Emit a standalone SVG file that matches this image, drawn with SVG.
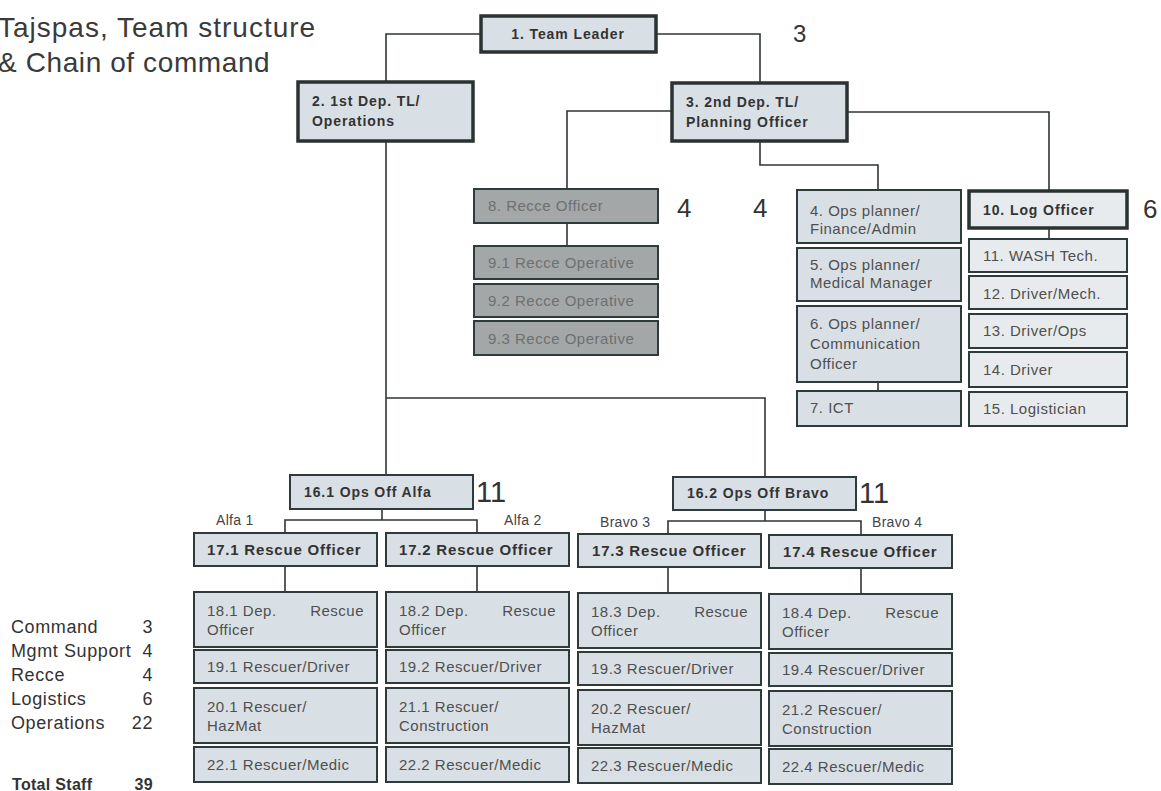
<svg xmlns="http://www.w3.org/2000/svg" width="1161" height="791" viewBox="0 0 1161 791">
<style>
text{font-family:"Liberation Sans",Arial,sans-serif}
.b{fill:#d9e0e5;stroke:#2f3b3b;stroke-width:2}
.bt{fill:#d9e0e5;stroke:#2a3232;stroke-width:3.5}
.bl{fill:#e8ebed;stroke:#2f3b3b;stroke-width:2}
.br{fill:#a4a7a8;stroke:#2f3b3b;stroke-width:2}
.tb{font-size:14px;font-weight:bold;fill:#333;letter-spacing:0.9px}
.tb2{font-size:15px;font-weight:bold;fill:#333;letter-spacing:0.8px}
.tr{font-size:15px;fill:#4f4f4f;letter-spacing:0.5px}
.trc{font-size:15px;fill:#6e7070;letter-spacing:0.5px}
.num{font-size:26px;fill:#333}
.lbl{font-size:14px;fill:#444;letter-spacing:0.3px}
.leg{font-size:18px;fill:#333;letter-spacing:0.6px}
.tot{font-size:16px;font-weight:bold;fill:#333;letter-spacing:0.3px}
.conn path{fill:none;stroke:#2f3535;stroke-width:1.6}
</style>
<g id="title">
<text x="-2" y="37" style="font-size:28px;fill:#3a3a3a;letter-spacing:1px">Tajspas, Team structure</text>
<text x="-2" y="72" style="font-size:28px;fill:#3a3a3a;letter-spacing:0.6px">&amp; Chain of command</text>
</g>
<g class="conn" id="connectors">
<path d="M481,34 H386 V82"/>
<path d="M656,34 H760 V83"/>
<path d="M672,111 H567 V189"/>
<path d="M847,112 H1049 V191"/>
<path d="M760,142 V165 H878 V190"/>
<path d="M567,223 V246"/>
<path d="M878,382 V391"/>
<path d="M1049,228 V239"/>
<path d="M386,141 V475"/>
<path d="M386,398 H765 V477"/>
<path d="M382,509 V520"/>
<path d="M285,533 V520 H477 V533"/>
<path d="M765,510 V521"/>
<path d="M668,534 V521 H861 V535"/>
<path d="M285,566 V592"/>
<path d="M477,566 V592"/>
<path d="M668,567 V593"/>
<path d="M861,568 V594"/>
</g>
<g id="n1"><rect class="bt" x="481" y="16" width="175" height="36"/><text class="tb" x="568" y="39" text-anchor="middle">1. Team Leader</text></g>
<g id="n2"><rect class="bt" x="298" y="82" width="175" height="59"/><text class="tb" x="312" y="106">2. 1st Dep. TL/</text><text class="tb" x="312" y="126">Operations</text></g>
<g id="n3"><rect class="bt" x="672" y="83" width="175" height="58"/><text class="tb" x="686" y="107">3. 2nd Dep. TL/</text><text class="tb" x="686" y="127">Planning Officer</text></g>
<text class="num" x="793" y="42" style="font-size:24px">3</text>
<g id="n8"><rect class="br" x="474" y="189" width="184" height="34"/><text class="trc" x="488" y="211">8. Recce Officer</text></g>
<g id="n9_1"><rect class="br" x="474" y="246" width="184" height="33"/><text class="trc" x="488" y="268">9.1 Recce Operative</text></g>
<g id="n9_2"><rect class="br" x="474" y="284" width="184" height="33"/><text class="trc" x="488" y="306">9.2 Recce Operative</text></g>
<g id="n9_3"><rect class="br" x="474" y="321" width="184" height="34"/><text class="trc" x="488" y="344">9.3 Recce Operative</text></g>
<text class="num" x="677" y="217">4</text>
<text class="num" x="753" y="217">4</text>
<g id="n4"><rect class="b" x="797" y="190" width="164" height="53"/><text class="tr" x="810" y="216">4. Ops planner/</text><text class="tr" x="810" y="234">Finance/Admin</text></g>
<g id="n5"><rect class="b" x="797" y="248" width="164" height="53"/><text class="tr" x="810" y="270">5. Ops planner/</text><text class="tr" x="810" y="288">Medical Manager</text></g>
<g id="n6"><rect class="b" x="797" y="306" width="164" height="76"/><text class="tr" x="810" y="329">6. Ops planner/</text><text class="tr" x="810" y="349">Communication</text><text class="tr" x="810" y="369">Officer</text></g>
<g id="n7"><rect class="b" x="797" y="391" width="164" height="35"/><text class="tr" x="810" y="413">7. ICT</text></g>
<g id="n10"><rect class="bt" x="969" y="191" width="158" height="37" style="fill:#e8ebed"/><text class="tb" x="983" y="215">10. Log Officer</text></g>
<text class="num" x="1143" y="218">6</text>
<g id="n11"><rect class="bl" x="969" y="239" width="158" height="33"/><text class="tr" x="983" y="261">11. WASH Tech.</text></g>
<g id="n12"><rect class="bl" x="969" y="276" width="158" height="33"/><text class="tr" x="983" y="299">12. Driver/Mech.</text></g>
<g id="n13"><rect class="bl" x="969" y="314" width="158" height="34"/><text class="tr" x="983" y="336">13. Driver/Ops</text></g>
<g id="n14"><rect class="bl" x="969" y="352" width="158" height="35"/><text class="tr" x="983" y="375">14. Driver</text></g>
<g id="n15"><rect class="bl" x="969" y="392" width="158" height="34"/><text class="tr" x="983" y="414">15. Logistician</text></g>
<g id="n16_1"><rect class="b" x="290" y="475" width="183" height="34"/><text class="tb" x="304" y="497">16.1 Ops Off Alfa</text></g>
<text class="num" x="476" y="502" style="font-size:29px">11</text>
<g id="n16_2"><rect class="b" x="673" y="477" width="183" height="33"/><text class="tb" x="687" y="498">16.2 Ops Off Bravo</text></g>
<text class="num" x="859" y="503" style="font-size:29px">11</text>
<text class="lbl" x="216" y="525">Alfa 1</text>
<text class="lbl" x="504" y="525">Alfa 2</text>
<text class="lbl" x="600" y="527">Bravo 3</text>
<text class="lbl" x="872" y="527">Bravo 4</text>
<g id="n17_1"><rect class="b" x="194" y="533" width="183" height="33"/><text class="tb2" x="207" y="555">17.1 Rescue Officer</text></g>
<g id="n17_2"><rect class="b" x="386" y="533" width="183" height="33"/><text class="tb2" x="399" y="555">17.2 Rescue Officer</text></g>
<g id="n17_3"><rect class="b" x="578" y="534" width="183" height="33"/><text class="tb2" x="592" y="556">17.3 Rescue Officer</text></g>
<g id="n17_4"><rect class="b" x="769" y="535" width="183" height="33"/><text class="tb2" x="783" y="557">17.4 Rescue Officer</text></g>
<g id="n18_1"><rect class="b" x="194" y="592" width="183" height="55"/><text class="tr" x="207" y="616">18.1 Dep.</text><text class="tr" x="364" y="616" text-anchor="end">Rescue</text><text class="tr" x="207" y="635">Officer</text></g>
<g id="n18_2"><rect class="b" x="386" y="592" width="183" height="55"/><text class="tr" x="399" y="616">18.2 Dep.</text><text class="tr" x="556" y="616" text-anchor="end">Rescue</text><text class="tr" x="399" y="635">Officer</text></g>
<g id="n18_3"><rect class="b" x="578" y="593" width="183" height="55"/><text class="tr" x="591" y="617">18.3 Dep.</text><text class="tr" x="748" y="617" text-anchor="end">Rescue</text><text class="tr" x="591" y="636">Officer</text></g>
<g id="n18_4"><rect class="b" x="769" y="594" width="183" height="55"/><text class="tr" x="782" y="618">18.4 Dep.</text><text class="tr" x="939" y="618" text-anchor="end">Rescue</text><text class="tr" x="782" y="637">Officer</text></g>
<g id="n19_1"><rect class="b" x="194" y="650" width="183" height="33"/><text class="tr" x="207" y="672">19.1 Rescuer/Driver</text></g>
<g id="n19_2"><rect class="b" x="386" y="650" width="183" height="33"/><text class="tr" x="399" y="672">19.2 Rescuer/Driver</text></g>
<g id="n19_3"><rect class="b" x="578" y="652" width="183" height="33"/><text class="tr" x="591" y="674">19.3 Rescuer/Driver</text></g>
<g id="n19_4"><rect class="b" x="769" y="653" width="183" height="33"/><text class="tr" x="782" y="675">19.4 Rescuer/Driver</text></g>
<g id="n20_1"><rect class="b" x="194" y="688" width="183" height="55"/><text class="tr" x="207" y="712">20.1 Rescuer/</text><text class="tr" x="207" y="731">HazMat</text></g>
<g id="n21_1"><rect class="b" x="386" y="688" width="183" height="55"/><text class="tr" x="399" y="712">21.1 Rescuer/</text><text class="tr" x="399" y="731">Construction</text></g>
<g id="n20_2"><rect class="b" x="578" y="690" width="183" height="55"/><text class="tr" x="591" y="714">20.2 Rescuer/</text><text class="tr" x="591" y="733">HazMat</text></g>
<g id="n21_2"><rect class="b" x="769" y="691" width="183" height="55"/><text class="tr" x="782" y="715">21.2 Rescuer/</text><text class="tr" x="782" y="734">Construction</text></g>
<g id="n22_1"><rect class="b" x="194" y="747" width="183" height="35"/><text class="tr" x="207" y="770">22.1 Rescuer/Medic</text></g>
<g id="n22_2"><rect class="b" x="386" y="747" width="183" height="35"/><text class="tr" x="399" y="770">22.2 Rescuer/Medic</text></g>
<g id="n22_3"><rect class="b" x="578" y="748" width="183" height="35"/><text class="tr" x="591" y="771">22.3 Rescuer/Medic</text></g>
<g id="n22_4"><rect class="b" x="769" y="749" width="183" height="35"/><text class="tr" x="782" y="772">22.4 Rescuer/Medic</text></g>
<g id="legend">
<text class="leg" x="11" y="633">Command</text><text class="leg" x="153" y="633" text-anchor="end">3</text>
<text class="leg" x="11" y="657">Mgmt Support</text><text class="leg" x="153" y="657" text-anchor="end">4</text>
<text class="leg" x="11" y="681">Recce</text><text class="leg" x="153" y="681" text-anchor="end">4</text>
<text class="leg" x="11" y="705">Logistics</text><text class="leg" x="153" y="705" text-anchor="end">6</text>
<text class="leg" x="11" y="729">Operations</text><text class="leg" x="153" y="729" text-anchor="end">22</text>
<text class="tot" x="12" y="790">Total Staff</text><text class="tot" x="153" y="790" text-anchor="end">39</text>
</g>
</svg>
